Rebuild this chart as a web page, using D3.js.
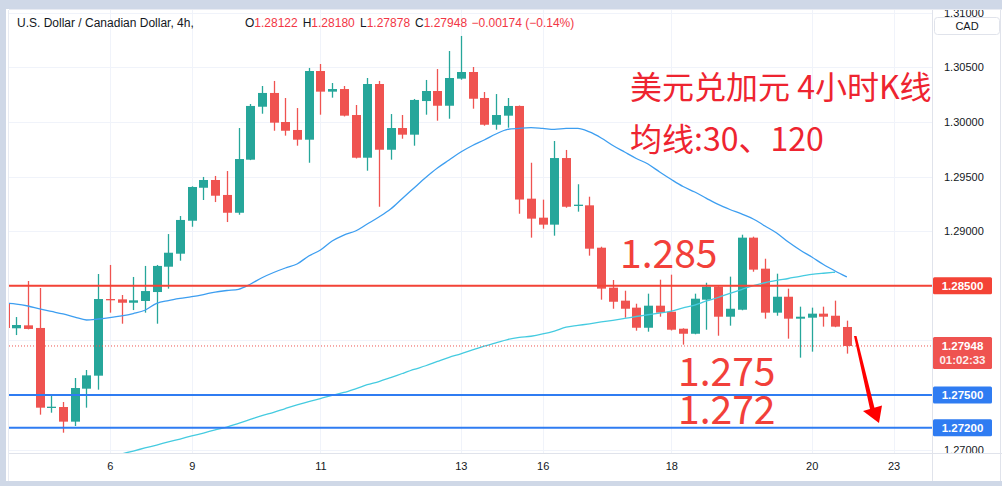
<!DOCTYPE html>
<html><head><meta charset="utf-8">
<script src="https://cdn.jsdelivr.net/npm/d3@7"></script>
<style>html,body{margin:0;padding:0;background:#cfd8e7;overflow:hidden}</style>
</head><body><svg id="c" width="1002" height="486"></svg>
<script>
// ---- data ----
const open  = [1.28342,1.28110,1.28137,1.28113,1.27383,1.27389,1.27255,1.27557,1.27676,1.28378,1.28375,1.28344,1.28360,1.28442,1.28674,1.28793,1.29095,1.29397,1.29468,1.29331,1.29168,1.29654,1.30139,1.30265,1.29999,1.29926,1.29837,1.30466,1.30277,1.30301,1.30063,1.29672,1.30347,1.29745,1.29944,1.29883,1.30191,1.30283,1.30148,1.30396,1.30457,1.30219,1.29974,1.30057,1.30146,1.29297,1.29123,1.29059,1.29669,1.29233,1.29236,1.28848,1.28482,1.28363,1.28299,1.28115,1.28317,1.28262,1.28106,1.28060,1.28372,1.28491,1.28216,1.28280,1.28940,1.28656,1.28253,1.28399,1.28198,1.28207,1.28244,1.28225,1.28122];
const high  = [1.28380,1.28213,1.28543,1.28479,1.27499,1.27435,1.27655,1.27728,1.28607,1.28690,1.28415,1.28580,1.28681,1.28690,1.28973,1.29138,1.29410,1.29496,1.29505,1.29550,1.29944,1.30164,1.30329,1.30375,1.30219,1.30127,1.30494,1.30530,1.30356,1.30329,1.30155,1.30402,1.30375,1.30072,1.30063,1.30210,1.30384,1.30484,1.30649,1.30787,1.30503,1.30274,1.30255,1.30219,1.30150,1.29626,1.29288,1.29825,1.29743,1.29429,1.29315,1.28857,1.28552,1.28454,1.28335,1.28427,1.28555,1.28601,1.28110,1.28427,1.28527,1.28495,1.28583,1.28967,1.28949,1.28747,1.28610,1.28473,1.28308,1.28299,1.28308,1.28363,1.28180];
const low   = [1.28090,1.28048,1.28100,1.27319,1.27337,1.27154,1.27215,1.27383,1.27548,1.28253,1.28152,1.28277,1.28253,1.28152,1.28473,1.28729,1.29040,1.29285,1.29266,1.29083,1.29150,1.29650,1.30075,1.29919,1.29874,1.29782,1.29626,1.30066,1.30222,1.30050,1.29665,1.29553,1.29223,1.29654,1.29846,1.29782,1.30066,1.30011,1.30029,1.30386,1.30121,1.29965,1.29929,1.29947,1.29159,1.28940,1.29022,1.28958,1.29214,1.29178,1.28775,1.28372,1.28289,1.28207,1.28088,1.28079,1.28216,1.28090,1.27960,1.28055,1.28097,1.28042,1.28134,1.28275,1.28628,1.28198,1.28225,1.28015,1.27841,1.27896,1.28125,1.28120,1.27878];
const close = [1.28113,1.28140,1.28104,1.27383,1.27392,1.27255,1.27563,1.27679,1.28378,1.28369,1.28344,1.28366,1.28451,1.28681,1.28802,1.29102,1.29404,1.29468,1.29324,1.29168,1.29660,1.30146,1.30265,1.29993,1.29919,1.29837,1.30466,1.30277,1.30301,1.30057,1.29672,1.30347,1.29745,1.29944,1.29883,1.30201,1.30283,1.30148,1.30402,1.30457,1.30212,1.29974,1.30063,1.30146,1.29289,1.29114,1.29059,1.29669,1.29223,1.29242,1.28839,1.28473,1.28353,1.28289,1.28115,1.28317,1.28253,1.28097,1.28060,1.28381,1.28491,1.28216,1.28289,1.28940,1.28647,1.28253,1.28399,1.28198,1.28216,1.28244,1.28216,1.28125,1.27948];
const ma30  = [1.28340,1.28332,1.28314,1.28287,1.28264,1.28241,1.28213,1.28186,1.28195,1.28207,1.28223,1.28245,1.28275,1.28339,1.28364,1.28383,1.28399,1.28419,1.28442,1.28456,1.28467,1.28513,1.28573,1.28621,1.28662,1.28699,1.28772,1.28827,1.28909,1.28964,1.29001,1.29065,1.29129,1.29202,1.29299,1.29395,1.29491,1.29578,1.29651,1.29724,1.29784,1.29834,1.29889,1.29932,1.29941,1.29947,1.29940,1.29932,1.29940,1.29941,1.29908,1.29853,1.29784,1.29724,1.29665,1.29614,1.29541,1.29472,1.29408,1.29358,1.29300,1.29244,1.29198,1.29157,1.29111,1.29047,1.28983,1.28900,1.28827,1.28763,1.28694,1.28635,1.28580];
const ma120 = [null,null,null,null,null,null,null,null,1.26904,1.26931,1.26959,1.26986,1.27014,1.27041,1.27069,1.27096,1.27124,1.27151,1.27179,1.27206,1.27240,1.27275,1.27310,1.27341,1.27375,1.27408,1.27439,1.27467,1.27496,1.27522,1.27556,1.27593,1.27622,1.27658,1.27696,1.27733,1.27767,1.27806,1.27844,1.27876,1.27912,1.27946,1.27977,1.28007,1.28026,1.28037,1.28058,1.28085,1.28120,1.28136,1.28151,1.28168,1.28183,1.28200,1.28218,1.28234,1.28250,1.28268,1.28296,1.28323,1.28360,1.28392,1.28430,1.28465,1.28500,1.28527,1.28548,1.28566,1.28586,1.28603,1.28614,1.28623];
const tickLabels = ["6","9","11","13","16","18","20","23"];
const tickIndex  = [9,16,27,39,46,57,69,76];
const priceTicks = [1.270,1.275,1.280,1.285,1.290,1.295,1.300,1.305,1.310];
const redLevels  = [1.285];
const blueLevels = [1.275,1.272];
const lastPrice  = 1.27948;
const countdown  = "01:02:33";
const header = {name:"U.S. Dollar / Canadian Dollar, 4h,", o:"1.28122", h:"1.28180", l:"1.27878", c:"1.27948", chg:"\u22120.00174 (\u22120.14%)"};
const titleLines = ["美元兑加元 4小时K线","均线:30、120"];
const levelTexts = [{t:"1.285",p:1.285},{t:"1.275",p:1.275},{t:"1.272",p:1.272}];

// ---- layout ----
const svg = d3.select("#c");
const plot = {l:9, r:932, t:10, b:453};
const x = d3.scaleLinear().domain([0.376, 79.28]).range([plot.l, plot.r]);
const y = d3.scaleLinear().domain([1.270, 1.305]).range([449.5, 67.3]);
const UP="#26a69a", DN="#ef5350";
const FONT="'Liberation Sans', Arial, sans-serif";
const fmt = d3.format(".5f");

svg.append("rect").attr("x",6).attr("y",9).attr("width",996).attr("height",472).attr("fill","#fff");
const defs = svg.append("defs");
defs.append("clipPath").attr("id","pc").append("rect")
  .attr("x",plot.l).attr("y",plot.t).attr("width",plot.r-plot.l).attr("height",plot.b-plot.t);
defs.append("clipPath").attr("id","ac").append("rect")
  .attr("x",plot.r).attr("y",plot.t).attr("width",70).attr("height",plot.b-plot.t);
const g = svg.append("g").attr("clip-path","url(#pc)");

// grid
g.selectAll(".hg").data(priceTicks).join("line")
  .attr("x1",plot.l).attr("x2",plot.r).attr("y1",d=>Math.round(y(d))+0.5).attr("y2",d=>Math.round(y(d))+0.5)
  .attr("stroke","#f0f3fa");
g.selectAll(".vg").data(tickIndex).join("line")
  .attr("y1",plot.t).attr("y2",plot.b).attr("x1",d=>Math.round(x(d))+0.5).attr("x2",d=>Math.round(x(d))+0.5)
  .attr("stroke","#f0f3fa");

// candles
const idx = d3.range(open.length);
const col = i => close[i] >= open[i] ? UP : DN;
g.selectAll(".wick").data(idx).join("line")
  .attr("x1",i=>Math.round(x(i))+0.5).attr("x2",i=>Math.round(x(i))+0.5)
  .attr("y1",i=>y(high[i])).attr("y2",i=>y(low[i]))
  .attr("stroke",col).attr("stroke-width",1.3);
g.selectAll(".body").data(idx).join("rect")
  .attr("x",i=>Math.round(x(i))+0.5-4.5).attr("width",9)
  .attr("y",i=>y(Math.max(open[i],close[i])))
  .attr("height",i=>Math.max(1.3, Math.abs(y(open[i])-y(close[i]))))
  .attr("fill",col);

// moving averages
const line30 = d3.line().x((d,i)=>x(i)).y(d=>y(d)).curve(d3.curveMonotoneX);
const line120 = d3.line().defined(d=>d!==null).x((d,i)=>x(i)).y(d=>y(d)).curve(d3.curveMonotoneX);
g.append("path").attr("d",line120(ma120)).attr("fill","none").attr("stroke","#45cbe0").attr("stroke-width",1.3);
g.append("path").attr("d",line30(ma30)).attr("fill","none").attr("stroke","#3d9ef0").attr("stroke-width",1.3);

// last price dotted line
g.append("line").attr("x1",plot.l).attr("x2",plot.r).attr("y1",y(lastPrice)).attr("y2",y(lastPrice))
  .attr("stroke",DN).attr("stroke-width",1).attr("stroke-dasharray","1,2");

// horizontal levels
g.selectAll(".rl").data(redLevels).join("line")
  .attr("x1",plot.l).attr("x2",plot.r).attr("y1",d=>y(d)).attr("y2",d=>y(d))
  .attr("stroke","#f44336").attr("stroke-width",2);
g.selectAll(".bl").data(blueLevels).join("line")
  .attr("x1",plot.l).attr("x2",plot.r).attr("y1",d=>y(d)).attr("y2",d=>y(d))
  .attr("stroke","#2f7cf2").attr("stroke-width",2);

// annotation texts
const ann = svg.append("g").attr("font-family","'Noto Sans CJK SC', sans-serif").attr("fill","#ee2430").attr("font-size",32);
ann.append("text").attr("x",630).attr("y",99).text(titleLines[0]);
ann.append("text").attr("x",630).attr("y",151).text(titleLines[1]);
const lt = svg.append("g").attr("font-family","'Noto Sans CJK SC', sans-serif").attr("fill","#f2403a").attr("font-size",39);
lt.selectAll("text").data(levelTexts).join("text")
  .attr("x",(d,i)=>i===0?620:678)
  .attr("y",d=> d.p===1.285 ? y(d.p)-18 : (d.p===1.275 ? y(1.275)-9 : y(1.272)-4))
  .text(d=>d.t);

// arrow
svg.append("path").attr("fill","#ff0000")
  .attr("d","M854,336 L856.5,336 L874.5,408 L870,409 Z M863,411 L882,405.5 L879,423 Z");

// header
const hd = svg.append("g").attr("font-family",FONT).attr("font-size",12);
hd.append("text").attr("x",17).attr("y",27).attr("fill","#131722").text(header.name);
const parts = [["O",header.o,245],["H",header.h,302.7],["L",header.l,360],["C",header.c,415]];
parts.forEach(p=>{
  const t = hd.append("text").attr("x",p[2]).attr("y",27);
  t.append("tspan").attr("fill","#131722").text(p[0]);
  t.append("tspan").attr("fill","#f23645").text(p[1]);
});
hd.append("text").attr("x",471.5).attr("y",27).attr("fill","#f23645").text(header.chg);

// borders
svg.append("line").attr("x1",plot.r+0.5).attr("x2",plot.r+0.5).attr("y1",plot.t).attr("y2",481).attr("stroke","#e0e3eb");
svg.append("line").attr("x1",plot.l).attr("x2",1002).attr("y1",plot.b+0.5).attr("y2",plot.b+0.5).attr("stroke","#e0e3eb");
svg.append("line").attr("x1",plot.l-0.5).attr("x2",plot.l-0.5).attr("y1",plot.t).attr("y2",481).attr("stroke","#e8ebf2");
svg.append("line").attr("x1",plot.l).attr("x2",1002).attr("y1",plot.t-0.5).attr("y2",plot.t-0.5).attr("stroke","#e8ebf2");
svg.append("line").attr("x1",1000.5).attr("x2",1000.5).attr("y1",plot.t).attr("y2",481).attr("stroke","#e0e3eb");

// price axis (labels hidden behind the tags are left out)
const covered = [1.275, 1.280, 1.285];
const axisTicks = priceTicks.filter(p => !covered.some(c => Math.abs(c-p) < 1e-9));
const ya = svg.append("g").attr("clip-path","url(#ac)").append("g").attr("transform",`translate(${plot.r},0)`)
  .call(d3.axisRight(y).tickValues(axisTicks).tickSize(0).tickPadding(12).tickFormat(fmt));
ya.select(".domain").remove();
ya.selectAll("text").attr("font-family",FONT).attr("font-size",11).attr("fill","#131722");

// CAD box
svg.append("rect").attr("x",934.5).attr("y",17.5).attr("width",65).attr("height",17).attr("rx",3)
  .attr("fill","#fff").attr("stroke","#e0e3eb");
svg.append("text").attr("x",967).attr("y",30).attr("text-anchor","middle").attr("font-family",FONT).attr("font-size",11).attr("fill","#131722").text("CAD");

// price labels
function tag(p, color, lines, h){
  const cy = y(p);
  const top = lines.length>1 ? cy-9 : cy-h/2;
  svg.append("rect").attr("x",933).attr("y",top).attr("width",59).attr("height",h).attr("rx",1.5).attr("fill",color);
  lines.forEach((t,k)=>{
    svg.append("text").attr("x",962.5).attr("y",cy+4+k*14.5).attr("text-anchor","middle")
      .attr("font-family",FONT).attr("font-size",11.5).attr("font-weight","bold").attr("fill","#fff")
      .attr("opacity",k>0?0.9:1).text(t);
  });
}
tag(redLevels[0], "#f44336", [fmt(redLevels[0])], 17);
tag(lastPrice, "#ef5350", [fmt(lastPrice), countdown], 32);
blueLevels.forEach(b=>tag(b, "#2f7cf2", [fmt(b)], 17));

// time axis
const xa = svg.append("g").attr("transform",`translate(0,${plot.b})`)
  .call(d3.axisBottom(x).tickValues(tickIndex).tickSize(0).tickPadding(9).tickFormat((d,i)=>tickLabels[i]));
xa.select(".domain").remove();
xa.selectAll("text").attr("font-family",FONT).attr("font-size",11).attr("fill","#131722");
</script></body></html>
